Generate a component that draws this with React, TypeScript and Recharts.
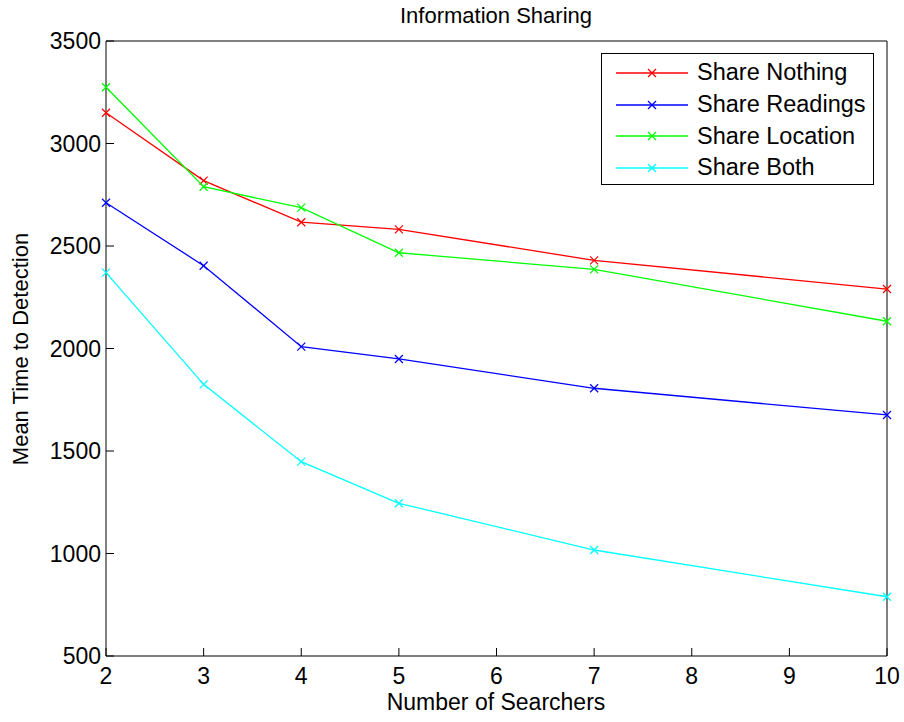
import { LineChart, Line, XAxis, YAxis, Legend } from 'recharts';

const searchers = [2, 3, 4, 5, 7, 10];
const shareNothing = [3150, 2819, 2616, 2581, 2430, 2290];
const shareReadings = [2711, 2404, 2009, 1949, 1806, 1676];
const shareLocation = [3274, 2789, 2687, 2467, 2386, 2133];
const shareBoth = [2370, 1825, 1448, 1245, 1017, 789];

const xTicks = [2, 3, 4, 5, 6, 7, 8, 9, 10];
const yTicks = [500, 1000, 1500, 2000, 2500, 3000, 3500];

const FONT = '"Liberation Sans", Arial, Helvetica, sans-serif';

const chartData = searchers.map((n, i) => ({
  searchers: n,
  nothing: shareNothing[i],
  readings: shareReadings[i],
  location: shareLocation[i],
  both: shareBoth[i],
}));

const series = [
  { key: 'nothing', name: 'Share Nothing', color: '#ff0000' },
  { key: 'readings', name: 'Share Readings', color: '#0000ff' },
  { key: 'location', name: 'Share Location', color: '#00ff00' },
  { key: 'both', name: 'Share Both', color: '#00ffff' },
];

// matlab-style 'x' marker
function Cross(props: any) {
  const { cx, cy, stroke } = props;
  if (cx == null || cy == null) return <g />;
  const r = 4;
  return (
    <g stroke={stroke} strokeWidth={1.3}>
      <line x1={cx - r} y1={cy - r} x2={cx + r} y2={cy + r} />
      <line x1={cx - r} y1={cy + r} x2={cx + r} y2={cy - r} />
    </g>
  );
}

// keep legend rows in plotting order rather than recharts' sorted order
function LegendBox({ payload }: any) {
  const items = [...(payload || [])].sort(
    (a: any, b: any) =>
      series.findIndex((s) => s.name === a.value) - series.findIndex((s) => s.name === b.value)
  );
  return (
    <div
      style={{
        width: 273,
        height: 132,
        border: '1px solid #000',
        background: '#fff',
        paddingTop: 3,
        boxSizing: 'border-box',
        fontFamily: FONT,
        fontSize: 23.5,
      }}
    >
      {items.map((p: any) => (
        <div key={p.value} style={{ display: 'flex', alignItems: 'center', height: 31.7 }}>
          <svg width={95} height={20} style={{ flex: 'none' }}>
            <line x1={14} y1={10} x2={86} y2={10} stroke={p.color} strokeWidth={1.3} />
            <line x1={46} y1={6} x2={54} y2={14} stroke={p.color} strokeWidth={1.3} />
            <line x1={46} y1={14} x2={54} y2={6} stroke={p.color} strokeWidth={1.3} />
          </svg>
          <span style={{ color: '#000', whiteSpace: 'nowrap' }}>{p.value}</span>
        </div>
      ))}
    </div>
  );
}

const tickStyle = { fill: '#000', fontSize: 23, fontFamily: FONT };
const axisLine = { stroke: '#000', strokeWidth: 1 };
const tickLine = { stroke: '#000', strokeWidth: 1 };

export default function App() {
  return (
    <div style={{ position: 'absolute', left: 0, top: 0, background: '#fff' }}>
      <LineChart
        width={904}
        height={722}
        data={chartData}
        margin={{ top: 40, right: 16, bottom: 0, left: 0 }}
      >
        <XAxis
          dataKey="searchers"
          type="number"
          domain={[2, 10]}
          ticks={xTicks}
          height={66}
          tickSize={-8}
          tickMargin={20}
          tick={tickStyle}
          axisLine={axisLine}
          tickLine={tickLine}
          label={{
            content: () => (
              <text x={496} y={710} textAnchor="middle" fill="#000" fontSize={23} fontFamily={FONT}>
                Number of Searchers
              </text>
            ),
          }}
        />
        <XAxis
          xAxisId="top"
          orientation="top"
          dataKey="searchers"
          type="number"
          domain={[2, 10]}
          ticks={xTicks}
          height={1}
          tickSize={-8}
          tick={false}
          axisLine={axisLine}
          tickLine={tickLine}
          label={{
            content: () => (
              <text x={496} y={23} textAnchor="middle" fill="#000" fontSize={22} fontFamily={FONT}>
                Information Sharing
              </text>
            ),
          }}
        />
        <YAxis
          type="number"
          domain={[500, 3500]}
          ticks={yTicks}
          width={106}
          tickSize={-8}
          tickMargin={13}
          tick={tickStyle}
          axisLine={axisLine}
          tickLine={tickLine}
          label={{
            content: () => (
              <text
                x={28}
                y={349}
                textAnchor="middle"
                fill="#000"
                fontSize={22}
                fontFamily={FONT}
                transform="rotate(-90, 28, 349)"
              >
                Mean Time to Detection
              </text>
            ),
          }}
        />
        <YAxis
          yAxisId="right"
          orientation="right"
          type="number"
          domain={[500, 3500]}
          ticks={yTicks}
          width={1}
          tickSize={-8}
          tick={false}
          axisLine={axisLine}
          tickLine={tickLine}
        />
        {series.map((s) => (
          <Line
            key={s.key}
            dataKey={s.key}
            name={s.name}
            stroke={s.color}
            strokeWidth={1.3}
            type="linear"
            dot={<Cross />}
            activeDot={false}
            isAnimationActive={false}
          />
        ))}
        <Legend
          layout="vertical"
          align="center"
          verticalAlign="middle"
          content={<LegendBox />}
          wrapperStyle={{ left: 601, top: 53, width: 275, height: 134 }}
        />
      </LineChart>
    </div>
  );
}
